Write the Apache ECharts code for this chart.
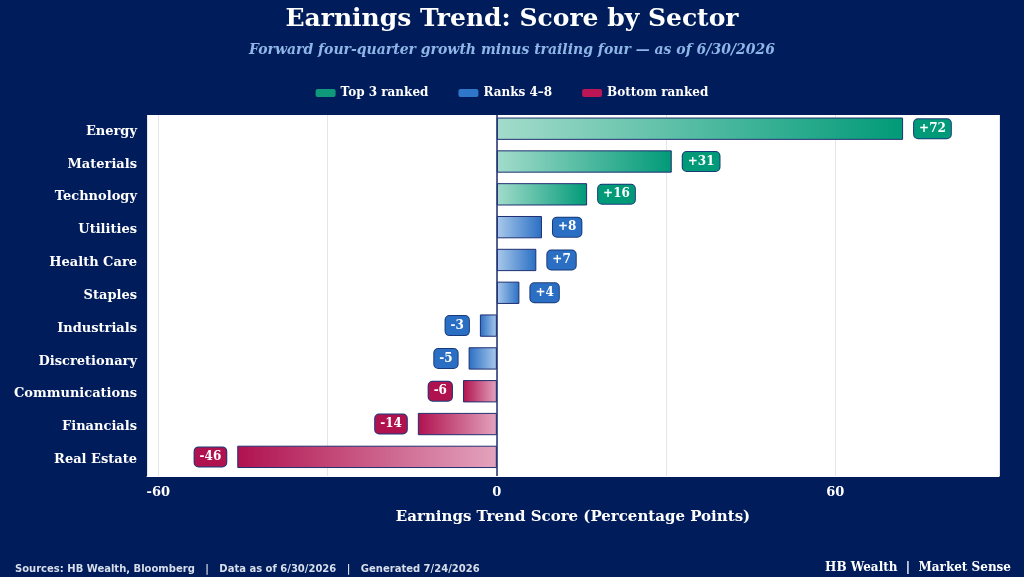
<!DOCTYPE html>
<html><head><meta charset="utf-8">
<script src="https://cdn.jsdelivr.net/npm/echarts@6/dist/echarts.min.js"></script>
<style>html,body{margin:0;padding:0;background:#001c5a}#c{width:1024px;height:577px}</style>
</head><body><div id="c"></div>
<script>
const categories = ['Energy','Materials','Technology','Utilities','Health Care','Staples','Industrials','Discretionary','Communications','Financials','Real Estate'];
const values = [72,31,16,8,7,4,-3,-5,-6,-14,-46];
const groups = ['top','top','top','mid','mid','mid','mid','mid','bot','bot','bot'];
const xTicks = [-60,-40,-20,0,20,40,60,80];

const col = {top:['#a3dccb','#019a78'], mid:['#a9c9ec','#2a6fc3'], bot:['#e3a3bd','#b0124f']};
const serif = 'DejaVu Serif';
const cats = categories.slice().reverse();
const vals = values.slice().reverse();
const grps = groups.slice().reverse();
const data = vals.map((v,i)=>{
  const c = col[grps[i]];
  const pos = v >= 0;
  return {
    value: v,
    itemStyle:{
      color:{type:'linear',x:0,y:0,x2:1,y2:0,colorStops: pos ?
        [{offset:0,color:c[0]},{offset:1,color:c[1]}] :
        [{offset:0,color:c[1]},{offset:1,color:c[0]}]},
      borderColor:'#1f2f72', borderWidth:1
    },
    label:{position: pos?'right':'left', backgroundColor:c[1], borderColor:'#173a7a'}
  };
});
const chart = echarts.init(document.getElementById('c'));
chart.setOption({
  backgroundColor:'#001c5a',
  title:[
    {text:'Earnings Trend: Score by Sector',left:'center',top:2,textStyle:{color:'#fff',fontFamily:serif,fontWeight:'bold',fontSize:25}},
    {text:'Forward four-quarter growth minus trailing four — as of 6/30/2026',left:'center',top:38,textStyle:{color:'#8fb6e8',fontFamily:serif,fontStyle:'italic',fontWeight:'bold',fontSize:14}},
    {text:'Sources: HB Wealth, Bloomberg   |   Data as of 6/30/2026   |   Generated 7/24/2026',left:10,top:559,textStyle:{color:'#d8deea',fontFamily:'DejaVu Sans',fontWeight:'bold',fontSize:10}},
    {text:'HB Wealth  |  Market Sense',right:8,top:557,textStyle:{color:'#fff',fontFamily:serif,fontWeight:'bold',fontSize:12}}
  ],
  legend:{top:82,left:'center',itemWidth:20,itemHeight:8,itemGap:30,
    textStyle:{color:'#fff',fontFamily:serif,fontWeight:'bold',fontSize:12},
    data:[{name:'Top 3 ranked',itemStyle:{color:'#0e9a7a'}},{name:'Ranks 4–8',itemStyle:{color:'#2f77c8'}},{name:'Bottom ranked',itemStyle:{color:'#bc1654'}}]},
  grid:{left:147,right:25,top:115,bottom:101},
  xAxis:{type:'value',min:-62,max:89,
    name:'Earnings Trend Score (Percentage Points)',nameLocation:'middle',nameGap:34,
    nameTextStyle:{color:'#fff',fontFamily:serif,fontWeight:'bold',fontSize:15},
    axisLine:{show:true,lineStyle:{color:'#fff'}},axisTick:{show:false},
    axisLabel:{color:'#fff',fontFamily:serif,fontWeight:'bold',fontSize:13,margin:10,
      formatter:v=> xTicks.includes(v)? String(v):'' ,showMinLabel:false,showMaxLabel:false},
    splitLine:{show:true,lineStyle:{color:'#e6e6ea'}}},
  yAxis:{type:'category',data:cats,axisTick:{show:false},axisLine:{show:false},
    axisLabel:{color:'#fff',fontFamily:serif,fontWeight:'bold',fontSize:13,margin:10}},
  series:[
    {type:'bar',data:data,barWidth:'68%',
      label:{show:true,distance:11,color:'#fff',fontFamily:serif,fontWeight:'bold',fontSize:12,
        padding:[4,5,3,5],borderRadius:4,borderWidth:1,
        formatter:p=> p.value>0?'+'+p.value:String(p.value)},
      markLine:{silent:true,symbol:'none',label:{show:false},lineStyle:{color:'#1f2f72',width:1.5,type:'solid'},data:[{xAxis:0}]}},
    {type:'bar',name:'Top 3 ranked',data:[]},
    {type:'bar',name:'Ranks 4–8',data:[]},
    {type:'bar',name:'Bottom ranked',data:[]}
  ],
  graphic:[{type:'rect',shape:{x:147,y:115,width:852,height:361},style:{fill:'#fff'},z:-10}]
});
</script></body></html>
